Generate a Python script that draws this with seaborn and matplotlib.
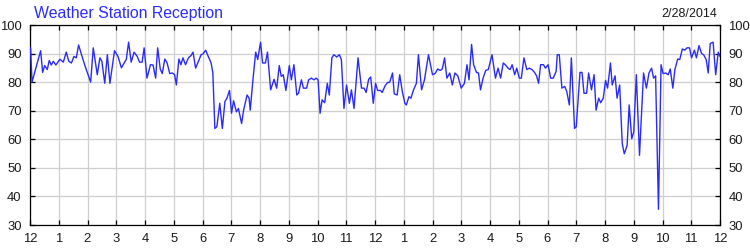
import matplotlib
matplotlib.use("Agg")
import matplotlib.pyplot as plt
import seaborn as sns
import pandas as pd

# time of day in hours since midnight
hours = [
    0.02, 0.07, 0.37, 0.44, 0.51, 0.60, 0.67, 0.74, 0.81, 0.90, 1.04, 1.16, 1.26, 1.35, 1.44,
    1.53, 1.61, 1.69, 1.81, 1.92, 2.11, 2.20, 2.34, 2.43, 2.50, 2.60, 2.69, 2.78, 2.94, 3.06,
    3.18, 3.35, 3.43, 3.52, 3.62, 3.73, 3.81, 3.90, 3.97,
    4.07, 4.19, 4.28, 4.37, 4.44, 4.53, 4.60, 4.69, 4.77, 4.86, 4.95, 5.03, 5.09, 5.18, 5.25,
    5.32, 5.41, 5.51, 5.60, 5.67, 5.76, 5.86, 5.95, 6.02, 6.11, 6.20, 6.30, 6.36, 6.43, 6.50,
    6.60, 6.69, 6.78, 6.85, 6.94, 7.01, 7.08, 7.18, 7.25, 7.36, 7.43, 7.55, 7.62, 7.66, 7.76,
    7.85, 7.92, 8.02,
    8.09, 8.19, 8.26, 8.37, 8.49, 8.58, 8.67, 8.74, 8.81, 8.90, 9.02, 9.09, 9.18, 9.28, 9.34,
    9.44, 9.51, 9.62, 9.69, 9.79, 9.88, 9.95, 10.02, 10.09, 10.16, 10.25, 10.34, 10.41, 10.50,
    10.57, 10.67, 10.76, 10.83, 10.92, 11.01, 11.11, 11.18, 11.27, 11.41, 11.53, 11.62, 11.69,
    11.78, 11.85, 11.94, 12.02,
    12.09, 12.19, 12.25, 12.35, 12.44, 12.51, 12.61, 12.67, 12.77, 12.86, 12.95, 13.04, 13.09,
    13.18, 13.25, 13.34, 13.44, 13.51, 13.62, 13.72, 13.86, 14.00, 14.09, 14.18, 14.27, 14.34,
    14.42, 14.50, 14.60, 14.69, 14.78, 14.88, 15.00, 15.11, 15.20, 15.27, 15.36, 15.43, 15.53,
    15.60, 15.67, 15.76, 15.85, 15.94,
    16.07, 16.19, 16.28, 16.37, 16.46, 16.53, 16.63, 16.70, 16.77, 16.86, 16.93, 17.02, 17.09,
    17.18, 17.28, 17.37, 17.46, 17.55, 17.62, 17.69, 17.76, 17.86, 17.93, 18.02, 18.11, 18.20,
    18.30, 18.34, 18.41, 18.50, 18.60, 18.67, 18.76, 18.83, 18.94, 19.00, 19.13, 19.20, 19.27,
    19.36, 19.43, 19.53, 19.62, 19.69, 19.78, 19.85, 19.94, 20.02,
    20.09, 20.19, 20.25, 20.35, 20.42, 20.51, 20.60, 20.67, 20.77, 20.84, 20.93, 21.00, 21.09,
    21.20, 21.34, 21.44, 21.53, 21.62, 21.69, 21.76, 21.86, 21.95, 22.02, 22.11, 22.20, 22.27,
    22.36, 22.43, 22.53, 22.60, 22.69, 22.78, 22.85, 22.94, 23.01, 23.11, 23.18, 23.27, 23.36,
    23.43, 23.52, 23.59, 23.66, 23.76, 23.85, 23.94, 24.00,
]

# reception percentage
reception = [
    92, 80, 91, 83.4, 85.8, 84.4, 87.6, 86, 87.3, 86, 88, 87, 90.5, 87.3, 86.7,
    89, 88.5, 93, 89, 85.5, 80, 92, 82.6, 88.5, 87.3, 79.6, 89.6, 79.6, 91, 89,
    85, 88, 94, 87, 90.5, 89, 87, 87, 92,
    81.4, 86.1, 86, 81.4, 92, 84.6, 83, 88.1, 86.7, 83, 83.2, 82.6, 79, 88.1, 86.1,
    88.5, 86.1, 88.5, 89.3, 90.5, 84.9, 87.3, 89.6, 89.9, 91.2, 89, 86.7, 83.2, 63.8, 64.4,
    72.6, 63.8, 73.2, 74.4, 77.1, 69.1, 73.5, 69.6, 70.8, 65.5, 70.2, 75.5, 74.4, 70.2, 81.4,
    90.5, 87.9, 94,
    86.7, 86.7, 90.5, 77.3, 81, 77.9, 85.8, 82, 82.6, 77.1, 85.8, 80.8, 86.1, 75.5, 76.1,
    80.8, 77.9, 77.9, 80.8, 81.4, 80.8, 81.4, 80.8, 69.1, 73.8, 72.8, 79.6, 75.5, 88.5,
    89.6, 88.8, 89.6, 87.9, 70.8, 79, 72.6, 77.3, 70.8, 88.5, 77.9, 77.9, 76.4,
    81, 81.8, 72.6, 79.6,
    77.1, 77.1, 76.4, 78.7, 79.9, 79.9, 83.2, 75.9, 75.5, 82.6, 76.7, 72.6, 72,
    74.9, 74.4, 77.3, 79.6, 89.6, 77.3, 80.8, 89.6, 82.6, 83, 84.6, 84.1, 84.6,
    88.5, 81.4, 83.2, 79, 83.2, 82.2, 77.9, 79.6, 86.1, 80.8, 93.2, 86.1, 83.4,
    83.2, 77.3, 81.4, 84.1, 84.4,
    89.6, 81.4, 84.9, 81.4, 86.7, 86.1, 84.9, 84.4, 86.1, 82.6, 84.9, 81.4, 81.4,
    88.5, 84.4, 84.9, 84.4, 83.4, 82.2, 79.6, 86.1, 86.1, 84.9, 86.1, 81.4, 81.4,
    83.8, 89.6, 89.6, 77.9, 78.5, 76.7, 72, 88.5, 63.8, 64.4, 83.4, 83.4, 76.1,
    76.1, 83.2, 77.3, 82.6, 70.2, 74.4, 72.8, 74.4, 80.6,
    77.9, 86.7, 79, 82.2, 74.4, 79, 58.5, 54.9, 57.9, 72, 60.2, 62.6, 82.6,
    54.4, 83.2, 77.9, 83.2, 84.9, 81.4, 82.2, 35.5, 86.1, 83, 83.2, 82.6, 84.6,
    77.9, 84.4, 88.1, 87.9, 91.6, 91.2, 92, 92, 88.5, 91.2, 88.5, 92.8, 90,
    89.6, 87.9, 83.2, 93.5, 94, 82.6, 90.5, 89,
]

x_tick_labels = ["12", "1", "2", "3", "4", "5", "6", "7", "8", "9", "10", "11",
                 "12", "1", "2", "3", "4", "5", "6", "7", "8", "9", "10", "11", "12"]
y_ticks = [30, 40, 50, 60, 70, 80, 90, 100]
title = "Weather Station Reception"
date_text = "2/28/2014"

sns.set_style("white")
plt.rcParams["font.family"] = ["Liberation Sans", "DejaVu Sans"]

df = pd.DataFrame({"hour": hours, "reception": reception})

fig = plt.figure(figsize=(7.5, 2.5), dpi=100)
ax = fig.add_axes([30 / 750, 25 / 250, 690 / 750, 200 / 250])

sns.lineplot(data=df, x="hour", y="reception", ax=ax, color="#2a2aff",
             linewidth=1.0, sort=False, zorder=3)

ax.set_xlim(0, 24)
ax.set_ylim(30, 100)
ax.set_xticks(range(25))
ax.set_xticklabels(x_tick_labels)
ax.set_yticks(y_ticks)
ax.set_xlabel("")
ax.set_ylabel("")

ax.grid(True, color="#cfcfcf", linewidth=0.9, zorder=0)
ax.set_axisbelow(True)

for side in ["left", "right", "top", "bottom"]:
    ax.spines[side].set_visible(True)
    ax.spines[side].set_color("black")
    ax.spines[side].set_linewidth(0.9)

txt_color = "#1a1a1a"
ax.tick_params(axis="x", which="both", direction="in", length=3.6, width=0.9,
               top=True, bottom=True, labelsize=9.4, pad=6, colors="black")
ax.tick_params(axis="x", labelcolor=txt_color)
ax.tick_params(axis="y", which="both", direction="in", length=3.6, width=0.9,
               left=True, right=True, labelleft=True, labelright=True,
               labelsize=9.4, pad=6, colors="black")
ax.tick_params(axis="y", labelcolor=txt_color)

fig.text(34 / 750, 1 - 18.3 / 250, title, color="#2b2bff", fontsize=11.4,
         ha="left", va="baseline")
fig.text(717.5 / 750, 1 - 17.3 / 250, date_text, color=txt_color, fontsize=9,
         ha="right", va="baseline")

fig.savefig("out.png", dpi=100)
